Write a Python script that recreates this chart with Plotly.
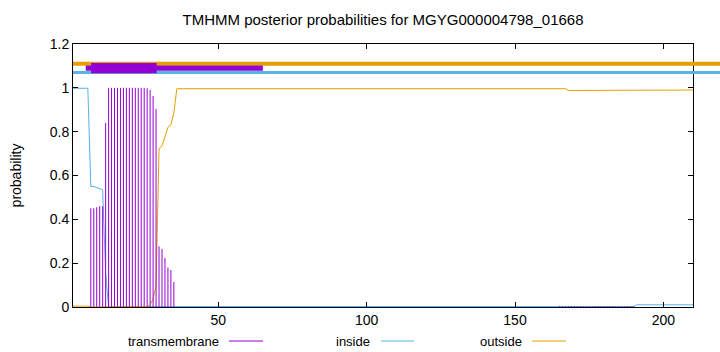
import plotly.graph_objects as go

# ---- data ----
residues = list(range(1, 211))

tm_prob = ([0.0] * 6
           + [0.45, 0.45, 0.455, 0.46, 0.46, 0.84]
           + [1.0] * 13
           + [0.998, 0.99, 0.963, 0.904, 0.277, 0.265, 0.224, 0.18, 0.169, 0.114]
           + [0.0] * 129
           + [0.004] * 26
           + [0.0] * 20)

inside_prob = ([0.998] * 6
               + [0.55, 0.55, 0.545, 0.54, 0.535, 0.155]
               + [0.002] * 178
               + [0.01] * 20)

outside_prob = ([0.004] * 6
                + [0.0] * 19
                + [0.002, 0.01, 0.037, 0.096, 0.723, 0.735, 0.776, 0.82, 0.831, 0.886]
                + [0.996] * 132
                + [0.988] * 23
                + [0.99] * 20)

# topology track at the top
outside_track_y = 1.11
inside_track_y = 1.07
tm_boxes = [(7.1, 29.2, 1.067, 1.113), (5.3, 65.0, 1.078, 1.102)]

title_text = "TMHMM posterior probabilities for MGYG000004798_01668"
x_ticks = [50, 100, 150, 200]
y_ticks = [0, 0.2, 0.4, 0.6, 0.8, 1.0, 1.2]

C_TM = "#9400D3"
C_IN = "#56B4E9"
C_OUT = "#E69F00"
FONT = "Liberation Sans, Arial, sans-serif"

# impulses for transmembrane
imp_x, imp_y = [], []
for r, v in zip(residues, tm_prob):
    if v > 0:
        imp_x += [r, r, None]
        imp_y += [0, v, None]

fig = go.Figure()
fig.add_trace(go.Scatter(x=residues, y=inside_prob, mode="lines",
                         line=dict(color=C_IN, width=1), showlegend=False))
fig.add_trace(go.Scatter(x=residues, y=outside_prob, mode="lines",
                         line=dict(color=C_OUT, width=1), showlegend=False))
fig.add_trace(go.Scatter(x=imp_x, y=imp_y, mode="lines",
                         line=dict(color=C_TM, width=1), showlegend=False))

L, R, T, B = 73, 27, 44, 45
W, H = 720, 352
pw, ph = W - L - R, H - T - B

def px_x(p):
    return (p - L) / pw

def px_y(p):
    return (H - B - p) / ph

shapes = []
# outside / inside tracks (extend past plot right edge as in reference)
shapes.append(dict(type="line", xref="paper", yref="y", x0=0, x1=px_x(720),
                   y0=outside_track_y, y1=outside_track_y,
                   line=dict(color=C_OUT, width=4), layer="above"))
shapes.append(dict(type="line", xref="paper", yref="y", x0=0, x1=px_x(720),
                   y0=inside_track_y, y1=inside_track_y,
                   line=dict(color=C_IN, width=3), layer="above"))
for (x0, x1, y0, y1) in tm_boxes:
    shapes.append(dict(type="rect", xref="x", yref="y", x0=x0, x1=x1, y0=y0, y1=y1,
                       fillcolor=C_TM, line=dict(width=0), layer="above"))

# custom gnuplot-style legend: text then line sample
legend_items = [("transmembrane", C_TM, 221, 229, 263),
                ("inside", C_IN, 372, 381, 414),
                ("outside", C_OUT, 524, 532, 566)]
annotations = []
ly = 341
for name, col, tx, lx0, lx1 in legend_items:
    annotations.append(dict(text=name, xref="paper", yref="paper",
                            x=px_x(tx), y=px_y(ly), xanchor="right", yanchor="middle",
                            showarrow=False, font=dict(family=FONT, size=13, color="black")))
    shapes.append(dict(type="line", xref="paper", yref="paper",
                       x0=px_x(lx0), x1=px_x(lx1), y0=px_y(ly), y1=px_y(ly),
                       line=dict(color=col, width=1)))

fig.update_layout(
    width=W, height=H,
    margin=dict(l=L, r=R, t=T, b=B),
    paper_bgcolor="white", plot_bgcolor="white",
    font=dict(family=FONT, size=14, color="black"),
    title=dict(text=title_text, x=0.5, xref="paper", xanchor="center",
               y=1 - 20 / H, yanchor="middle", yref="container",
               font=dict(family=FONT, size=15, color="black")),
    shapes=shapes, annotations=annotations,
    showlegend=False,
)
fig.update_xaxes(range=[1, 210], tickvals=x_ticks, ticks="inside", ticklen=5,
                 tickcolor="black", showline=True, linecolor="black", linewidth=1,
                 mirror="ticks", showgrid=False, zeroline=False,
                 tickfont=dict(family=FONT, size=14))
fig.update_yaxes(range=[0, 1.2], tickvals=y_ticks, ticks="inside", ticklen=5,
                 tickcolor="black", showline=True, linecolor="black", linewidth=1,
                 mirror="ticks", showgrid=False, zeroline=False,
                 title=dict(text="probability", standoff=24, font=dict(family=FONT, size=14)),
                 tickfont=dict(family=FONT, size=14))

fig.write_html("out.html")
